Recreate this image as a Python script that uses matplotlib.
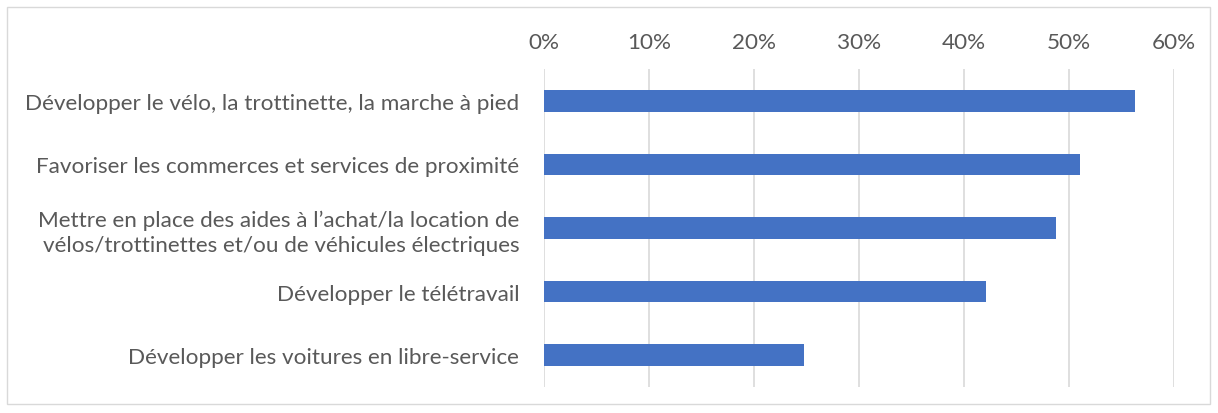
import matplotlib.pyplot as plt
from matplotlib.patches import Rectangle
from matplotlib.ticker import PercentFormatter

plt.rcParams['font.family'] = ['Lato', 'DejaVu Sans']

categories = [
    "Développer le vélo, la trottinette, la marche à pied",
    "Favoriser les commerces et services de proximité",
    "Mettre en place des aides à l’achat/la location de\nvélos/trottinettes et/ou de véhicules électriques",
    "Développer le télétravail",
    "Développer les voitures en libre-service",
]
values = [56.3, 51.1, 48.8, 42.1, 24.8]
ticks = [0, 10, 20, 30, 40, 50, 60]

fig = plt.figure(figsize=(12.18, 4.14), dpi=100)
ax = fig.add_axes([0.4469, 0.063, 0.9636 - 0.4469, 0.831 - 0.063])

# light frame around the chart area
fig.patches.append(Rectangle((7 / 1218, 1 - 405 / 414), 1203 / 1218, 397 / 414,
                             transform=fig.transFigure, fill=False,
                             edgecolor='#d9d9d9', linewidth=1))

y = list(range(len(categories)))
ax.barh(y, values, height=0.34, color='#4472c4', zorder=3)
ax.set_ylim(len(categories) - 0.5, -0.5)
ax.set_xlim(0, 60)
ax.set_xticks(ticks)
ax.xaxis.set_major_formatter(PercentFormatter(decimals=0))
ax.xaxis.tick_top()
ax.set_yticks(y)
ax.set_yticklabels(categories, multialignment='right', linespacing=1.3)
ax.tick_params(axis='both', length=0, colors='#595959', labelsize=16.2)
ax.tick_params(axis='x', pad=12)
ax.tick_params(axis='y', pad=18)
ax.grid(axis='x', color='#d9d9d9', linewidth=1.2, zorder=0)
for s in ax.spines.values():
    s.set_visible(False)

fig.savefig('out.png', dpi=100)
